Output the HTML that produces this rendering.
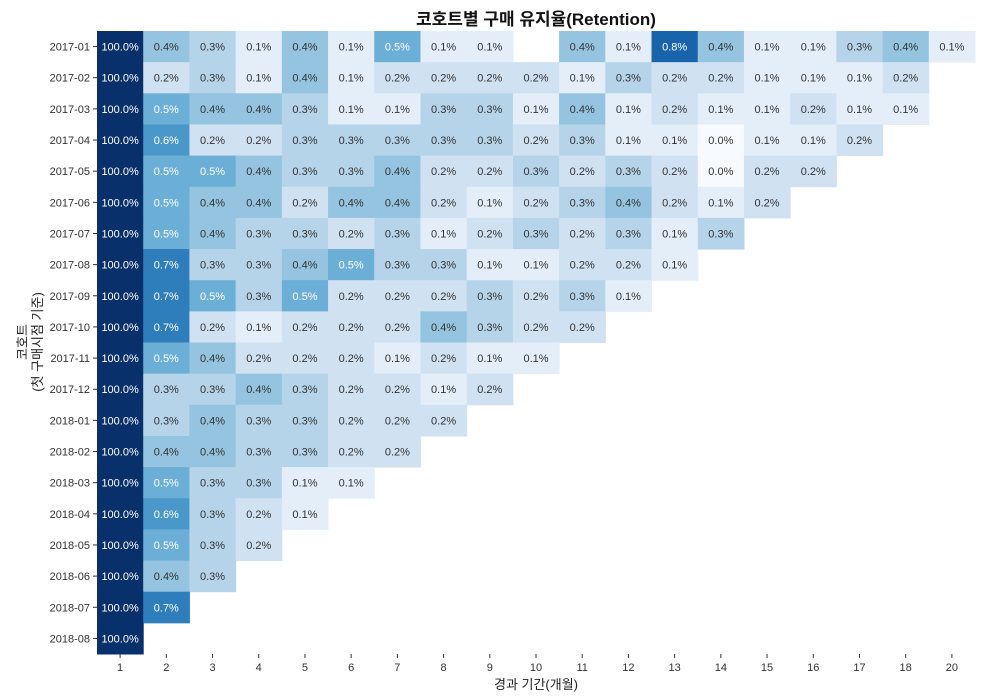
<!DOCTYPE html>
<html><head><meta charset="utf-8">
<style>
html,body{margin:0;padding:0;background:#fff;}
svg{display:block;font-family:"Liberation Sans","Noto Sans CJK KR",sans-serif;}
</style></head>
<body>
<svg id="chart" width="983" height="699">
<text x="536" y="25" text-anchor="middle" font-size="17" font-weight="bold" fill="#111">코호트별 구매 유지율(Retention)</text>
<text transform="translate(33,342) rotate(-90)" text-anchor="middle" font-size="13" fill="#222"><tspan x="0" dy="-6">코호트</tspan><tspan x="0" dy="15">(첫 구매시점 기준)</tspan></text>
<text x="536" y="689" text-anchor="middle" font-size="13" fill="#222">경과 기간(개월)</text>
<g id="cells"></g>
<g id="xticks"></g>
<g id="yticks"></g>
</svg>
<script>
const cohorts=["2017-01","2017-02","2017-03","2017-04","2017-05","2017-06","2017-07","2017-08","2017-09","2017-10","2017-11","2017-12","2018-01","2018-02","2018-03","2018-04","2018-05","2018-06","2018-07","2018-08"];
const periods=[1,2,3,4,5,6,7,8,9,10,11,12,13,14,15,16,17,18,20];
const r2017_01=[100,0.4,0.3,0.1,0.4,0.1,0.5,0.1,0.1,null,0.4,0.1,0.8,0.4,0.1,0.1,0.3,0.4,0.1];
const r2017_02=[100,0.2,0.3,0.1,0.4,0.1,0.2,0.2,0.2,0.2,0.1,0.3,0.2,0.2,0.1,0.1,0.1,0.2];
const r2017_03=[100,0.5,0.4,0.4,0.3,0.1,0.1,0.3,0.3,0.1,0.4,0.1,0.2,0.1,0.1,0.2,0.1,0.1];
const r2017_04=[100,0.6,0.2,0.2,0.3,0.3,0.3,0.3,0.3,0.2,0.3,0.1,0.1,0.0,0.1,0.1,0.2];
const r2017_05=[100,0.5,0.5,0.4,0.3,0.3,0.4,0.2,0.2,0.3,0.2,0.3,0.2,0.0,0.2,0.2];
const r2017_06=[100,0.5,0.4,0.4,0.2,0.4,0.4,0.2,0.1,0.2,0.3,0.4,0.2,0.1,0.2];
const r2017_07=[100,0.5,0.4,0.3,0.3,0.2,0.3,0.1,0.2,0.3,0.2,0.3,0.1,0.3];
const r2017_08=[100,0.7,0.3,0.3,0.4,0.5,0.3,0.3,0.1,0.1,0.2,0.2,0.1];
const r2017_09=[100,0.7,0.5,0.3,0.5,0.2,0.2,0.2,0.3,0.2,0.3,0.1];
const r2017_10=[100,0.7,0.2,0.1,0.2,0.2,0.2,0.4,0.3,0.2,0.2];
const r2017_11=[100,0.5,0.4,0.2,0.2,0.2,0.1,0.2,0.1,0.1];
const r2017_12=[100,0.3,0.3,0.4,0.3,0.2,0.2,0.1,0.2];
const r2018_01=[100,0.3,0.4,0.3,0.3,0.2,0.2,0.2];
const r2018_02=[100,0.4,0.4,0.3,0.3,0.2,0.2];
const r2018_03=[100,0.5,0.3,0.3,0.1,0.1];
const r2018_04=[100,0.6,0.3,0.2,0.1];
const r2018_05=[100,0.5,0.3,0.2];
const r2018_06=[100,0.4,0.3];
const r2018_07=[100,0.7];
const r2018_08=[100];
const values=[r2017_01,r2017_02,r2017_03,r2017_04,r2017_05,r2017_06,r2017_07,r2017_08,r2017_09,r2017_10,r2017_11,r2017_12,r2018_01,r2018_02,r2018_03,r2018_04,r2018_05,r2018_06,r2018_07,r2018_08];

const NS="http://www.w3.org/2000/svg";
const L=97,R=975,T=31,B=654;
const cw=(R-L)/periods.length, ch=(B-T)/cohorts.length;
const xPos=i=>L+i*cw, yPos=j=>T+j*ch;
const stops=["#f7fbff","#deebf7","#c6dbef","#9ecae1","#6baed6","#4292c6","#2171b5","#08519c","#08306b"];
function hex(h){return [1,3,5].map(k=>parseInt(h.substr(k,2),16));}
function blues(v){let t=Math.max(0,Math.min(1,v/1.0))*8;let i=Math.min(7,Math.floor(t));let f=t-i;
 const a=hex(stops[i]),b=hex(stops[i+1]);return "rgb("+a.map((c,k)=>Math.round(c+(b[k]-c)*f)).join(",")+")";}
function mk(tag,attrs,parent){const e=document.createElementNS(NS,tag);for(const k in attrs)e.setAttribute(k,attrs[k]);parent.appendChild(e);return e;}
const gc=document.getElementById("cells");
values.forEach((row,j)=>{row.forEach((v,i)=>{
 if(v===null)return;
 const r=mk("rect",{x:xPos(i),y:yPos(j),width:cw+0.5,height:ch+0.5,fill:blues(v)},gc);
 
 
 const t=mk("text",{x:xPos(i)+cw/2,y:yPos(j)+ch/2+4,"text-anchor":"middle","font-size":"11",fill:v>=0.5?"#fff":"#333"},gc);
 
 
 t.textContent=v.toFixed(1)+"%";
});});
const gx=document.getElementById("xticks");
periods.forEach((p,i)=>{
 const cx=xPos(i)+cw/2;
 const l=mk("line",{x1:cx,x2:cx,y1:B,y2:B+4,stroke:"#333","stroke-width":1},gx);
 
 
 const t=mk("text",{x:cx,y:B+17,"text-anchor":"middle","font-size":"11",fill:"#333"},gx);
 
 
 t.textContent=p;
});
const gy=document.getElementById("yticks");
cohorts.forEach((c,j)=>{
 const cy=yPos(j)+ch/2;
 const l=mk("line",{x1:L-4,x2:L,y1:cy,y2:cy,stroke:"#333","stroke-width":1},gy);
 
 
 const t=mk("text",{x:L-7,y:cy+4,"text-anchor":"end","font-size":"11",fill:"#333"},gy);
 
 
 t.textContent=c;
});
</script>
</body></html>
